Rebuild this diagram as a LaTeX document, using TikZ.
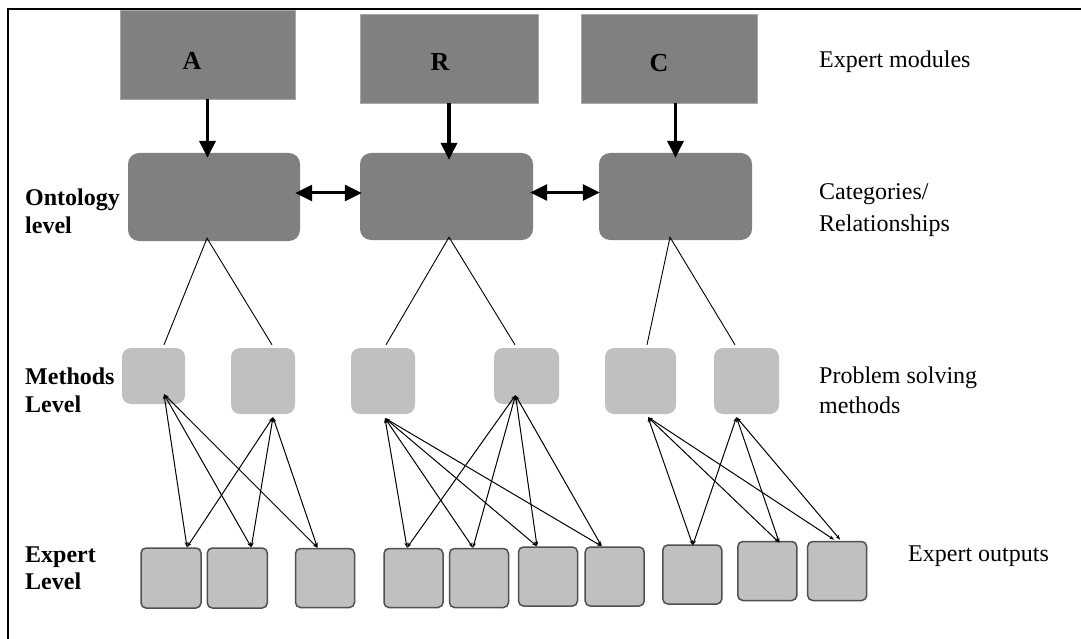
\documentclass[tikz,border=0pt]{standalone}
\usepackage{fontspec}
\setmainfont{Liberation Serif}
\usetikzlibrary{arrows.meta,calc}
\definecolor{dgray}{HTML}{808080}
\definecolor{lgray}{HTML}{C0C0C0}
\definecolor{edgegray}{HTML}{505050}
\definecolor{modedge}{HTML}{A8A8A8}
\begin{document}
\begin{tikzpicture}[x=1pt,y=-1pt,
  module/.style={rectangle, fill=dgray, draw=modedge, line width=0.8pt, inner sep=0},
  onto/.style={rectangle, rounded corners=11pt, fill=dgray, inner sep=0},
  meth/.style={rectangle, rounded corners=9pt, fill=lgray, inner sep=0},
  outp/.style={rectangle, rounded corners=5pt, fill=lgray, draw=edgegray, line width=1.5pt,
    minimum width=59pt, minimum height=59pt, inner sep=0},
  letter/.style={font=\fontsize{26}{30}\selectfont\bfseries, inner sep=0},
  bigarrow/.style={line width=3.5pt, -{Triangle[length=17pt,width=16pt]}},
  dblarrow/.style={line width=3pt, {Triangle[length=17pt,width=16pt]}-{Triangle[length=17pt,width=16pt]}},
  link/.style={line width=0.9pt},
  rel/.style={line width=1pt, {Stealth[length=5pt,width=3.5pt]}-{Stealth[length=5pt,width=3.5pt]}},
  lbl/.style={font=\fontsize{24}{28}\selectfont, anchor=north west, inner sep=0, align=left},
  blbl/.style={font=\fontsize{24}{28}\selectfont\bfseries, anchor=north west, inner sep=0, align=left}
]
\useasboundingbox (0,0) rectangle (1081,639);
\fill[white] (0,0) rectangle (1081,639);
% frame
\draw[line width=2pt] (8,639) -- (8,9) -- (1081,9);

% expert modules
\node[module, minimum width=175pt, minimum height=89pt,
  label={[letter, xshift=-15.5pt, yshift=-6.5pt]center:A}] (A) at (207.5,54.5) {};
\node[module, minimum width=178pt, minimum height=89pt,
  label={[letter, xshift=-9pt, yshift=-3.5pt]center:R}] (B) at (449,58.5) {};
\node[module, minimum width=176pt, minimum height=89pt,
  label={[letter, xshift=-10pt, yshift=-4.5pt]center:C}] (C) at (669,58.5) {};

% ontology level
\node[onto, minimum width=172pt, minimum height=88pt] (O1) at (214,197) {};
\node[onto, minimum width=173pt, minimum height=87pt] (O2) at (446.5,196.5) {};
\node[onto, minimum width=153pt, minimum height=87pt] (O3) at (675.5,196.5) {};

% methods level
\node[meth, minimum width=63pt, minimum height=56pt] (M1) at (153.5,376) {};
\node[meth, minimum width=64pt, minimum height=66pt] (M2) at (263,381) {};
\node[meth, minimum width=64pt, minimum height=66pt] (M3) at (383,381) {};
\node[meth, minimum width=65pt, minimum height=56pt] (M4) at (526.5,376) {};
\node[meth, minimum width=71pt, minimum height=66pt] (M5) at (640.5,381) {};
\node[meth, minimum width=65pt, minimum height=66pt] (M6) at (746.5,381) {};

% expert level
\node[outp, minimum width=60pt, minimum height=60pt] (E1) at (171,578) {};
\node[outp, minimum width=60pt, minimum height=60pt] (E2) at (237.3,578) {};
\node[outp] (E3) at (325,578) {};
\node[outp] (E4) at (413.5,578) {};
\node[outp] (E5) at (479,578) {};
\node[outp] (E6) at (548,576.5) {};
\node[outp] (E7) at (614.7,576.5) {};
\node[outp] (E8) at (692.3,574.5) {};
\node[outp] (E9) at (767.3,571) {};
\node[outp] (E10) at (837.2,571) {};

% arrows modules -> ontology
\draw[bigarrow] (A.south) -- ($(A.south |- O1.north)+(0,5)$);
\draw[bigarrow] (B.south) -- ($(B.south |- O2.north)+(0,7)$);
\draw[bigarrow] (O3.north |- C.south) -- ($(O3.north)+(0,5)$);

% ontology relations
\draw[dblarrow] ($(O1.east)+(-5,-4)$) -- ($(O1.east -| O2.west)+(2,-4)$);
\draw[dblarrow] ($(O2.east)+(-3,-4)$) -- ($(O2.east -| O3.west)+(1,-4)$);

% ontology -> methods
\coordinate (o1a) at ($(O1.south)+(-7,-3)$);
\coordinate (o2a) at ($(O2.south)+(2.5,-3)$);
\coordinate (o3a) at ($(O3.south)+(-5.5,-3)$);
\coordinate (m1t) at ($(M1.north)+(10.5,-3)$);
\coordinate (m2t) at ($(M2.north)+(9,-3)$);
\coordinate (m3t) at ($(M3.north)+(3,-3)$);
\coordinate (m4t) at ($(M4.north)+(-11.5,-3)$);
\coordinate (m5t) at ($(M5.north)+(6.5,-3)$);
\coordinate (m6t) at ($(M6.north)+(-11.5,-3)$);
\draw[link] (m1t) -- (o1a) -- (m2t);
\draw[link] (m3t) -- (o2a) -- (m4t);
\draw[link] (m5t) -- (o3a) -- (m6t);

% methods -> expert outputs
\coordinate (m1b) at ($(M1.south)+(10.5,-10)$);
\coordinate (m2b) at ($(M2.south)+(10,3)$);
\coordinate (m3b) at ($(M3.south)+(2,4)$);
\coordinate (m4b) at ($(M4.south)+(-11,-9)$);
\coordinate (m5b) at ($(M5.south)+(7.5,3)$);
\coordinate (m6b) at ($(M6.south)+(-10,3)$);
\coordinate (e1t) at ($(E1.north)+(16,0)$);
\coordinate (e2t) at ($(E2.north)+(14,0)$);
\coordinate (e3t) at ($(E3.north)+(-7.5,0)$);
\coordinate (e4t) at ($(E4.north)+(-6.5,0)$);
\coordinate (e5t) at ($(E5.north)+(-6,0)$);
\coordinate (e6t) at ($(E6.north)+(-11,0)$);
\coordinate (e7t) at ($(E7.north)+(-13,0)$);
\coordinate (e8t) at ($(E8.north)+(0.5,1)$);
\coordinate (e9t) at ($(E9.north)+(12,2)$);
\coordinate (e10a) at ($(E10.north)+(-3,-1)$);
\coordinate (e10b) at ($(E10.north)+(3,-1)$);
\foreach \m/\e in {m1b/e1t, m1b/e2t, m1b/e3t, m2b/e1t, m2b/e2t, m2b/e3t,
                   m3b/e4t, m3b/e5t, m3b/e6t, m3b/e7t,
                   m4b/e4t, m4b/e5t, m4b/e6t, m4b/e7t,
                   m5b/e8t, m5b/e9t, m5b/e10a,
                   m6b/e8t, m6b/e9t, m6b/e10b}
  \draw[rel] (\m) -- (\e);

% labels
\node[blbl] (lonto) at (25,189) {Ontology\\level};
\node[blbl] (lmeth) at (25,368) {Methods\\Level};
\node[blbl, font=\fontsize{24}{27}\selectfont\bfseries] (lexp) at (25,547) {Expert\\Level};
\node[lbl, anchor=base west] (rmod) at (819,68) {Expert modules};
\node[lbl, font=\fontsize{24}{32}\selectfont] (rcat) at (819,183) {Categories/\\Relationships};
\node[lbl, font=\fontsize{24}{30}\selectfont] (rpsm) at (819,367) {Problem solving\\methods};
\node[lbl, anchor=base west] (rout) at (908,561) {Expert outputs};
\end{tikzpicture}
\end{document}
